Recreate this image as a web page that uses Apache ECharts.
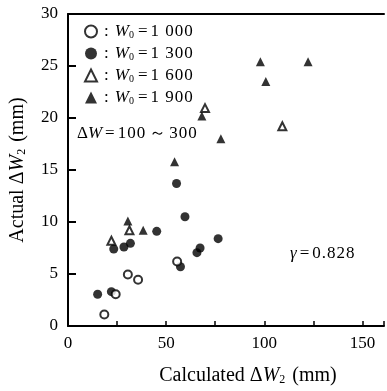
<!DOCTYPE html>
<html><head><meta charset="utf-8">
<script src="https://cdn.jsdelivr.net/npm/echarts@6/dist/echarts.min.js"></script>
<style>html,body{margin:0;padding:0;background:#fff}#c{width:387px;height:391px}</style>
</head><body><div id="c"></div>
<script>
// Data: [calculated ΔW2, actual ΔW2] (mm)
const w1000 = [[18.5,1.1],[24.3,3.05],[30.5,4.95],[35.7,4.45],[55.6,6.2]];
const w1300 = [[15.1,3.05],[22.1,3.3],[23.3,7.4],[28.5,7.6],[31.8,7.95],[45.2,9.1],[55.3,13.7],[57.3,5.7],[59.6,10.5],[65.7,7.05],[67.3,7.5],[76.5,8.4]];
const w1600 = [[22.1,8.2],[31.3,9.2],[69.8,20.95],[109.2,19.2]];
const w1900 = [[30.5,10.1],[38.3,9.2],[54.3,15.8],[68.2,20.2],[77.9,18.0],[98,25.4],[100.8,23.5],[122.3,25.4]];
const seriesNames = ['1 000','1 300','1 600','1 900'];
const xTicks = [0,50,100,150];
const yTicks = [0,5,10,15,20,25,30];

const F = '"Liberation Serif","Times New Roman",serif';
const rich = {
  i:{fontFamily:F,fontStyle:'italic',fontSize:17,color:'#000'},
  s:{fontFamily:F,fontSize:10,color:'#000',verticalAlign:'bottom',padding:[7,1,0,0]},
  n:{fontFamily:F,fontSize:17,color:'#000'},
  e:{fontFamily:F,fontSize:17,color:'#000',padding:[0,3,0,3]},
  d:{fontFamily:F,fontSize:17,color:'#000',padding:[0,1,0,0]},
  c:{fontFamily:F,fontSize:17,color:'#000',padding:[0,6,0,0]}
};
const bigRich = {
  i:{fontFamily:F,fontStyle:'italic',fontSize:20,color:'#000'},
  s:{fontFamily:F,fontSize:12,color:'#000',verticalAlign:'bottom',padding:[8,2,0,0]},
  n:{fontFamily:F,fontSize:20,color:'#000'}
};
const spaced = s => s.split('').map(ch=>'{d|'+ch+'}').join('');
const chart = echarts.init(document.getElementById('c'));
const mk = (name,data,symbol,filled)=>({
  name:name,type:'scatter',data:data,symbol:symbol,
  symbolSize: filled?9:8,
  itemStyle: filled?{color:'#000'}:{color:'#fff',borderColor:'#000',borderWidth:2},
  z:filled?2:3
});
chart.setOption({
  animation:false,
  grid:{left:66,right:1,top:14,bottom:62},
  legend:{
    orient:'vertical',left:79,top:18,itemGap:5,itemWidth:12,itemHeight:12,
    data:seriesNames.map((n,i)=>({name:n,icon:i<2?'circle':'triangle',
      itemStyle:i%2===0?{color:'#fff',borderColor:'#000',borderWidth:2}:{color:'#000'}})),
    formatter:n=>'{c|:}{i|W}{s|0}{e|=}' + spaced(n),
    textStyle:{rich:rich,padding:[0,0,0,2]}
  },
  xAxis:[{
    type:'value',min:0,max:161,interval:25,
    axisLine:{lineStyle:{color:'#000',width:2}},
    axisTick:{inside:true,length:5,lineStyle:{color:'#000',width:1.5}},
    axisLabel:{fontFamily:F,fontSize:17,color:'#000',margin:9,
      formatter:v=>xTicks.indexOf(v)>=0?String(v):''},
    splitLine:{show:false},
    name:'{n|Calculated Δ}{i|W}{s|2}{n| (mm)}',nameLocation:'middle',nameGap:40,
    nameTextStyle:{rich:bigRich,padding:[0,0,0,44]}
  },{
    type:'value',position:'top',min:0,max:161,
    axisLine:{show:true,onZero:false,lineStyle:{color:'#000',width:2}},
    axisTick:{show:false},axisLabel:{show:false},splitLine:{show:false}
  }],
  yAxis:{
    type:'value',min:0,max:30,interval:5,
    axisLine:{lineStyle:{color:'#000',width:2}},
    axisTick:{inside:true,length:8,lineStyle:{color:'#000',width:2}},
    axisLabel:{fontFamily:F,fontSize:17,color:'#000',margin:10,
      formatter:v=>yTicks.indexOf(v)>=0?String(v):''},
    splitLine:{show:false},
    name:'{n|Actual Δ}{i|W}{s|2}{n| (mm)}',nameLocation:'middle',nameGap:40,nameRotate:90,
    nameTextStyle:{rich:bigRich}
  },
  graphic:[
    {type:'text',left:77,top:125,style:{rich:rich,text:'{n|Δ}{i|W}{e|=}'+spaced('100')+'{e|～}'+spaced('300')}},
    {type:'text',left:290,top:245,style:{rich:rich,text:'{i|γ}{e|=}'+spaced('0.828')}}
  ],
  series:[
    mk(seriesNames[0],w1000,'circle',false),
    mk(seriesNames[1],w1300,'circle',true),
    mk(seriesNames[2],w1600,'triangle',false),
    mk(seriesNames[3],w1900,'triangle',true)
  ]
});
</script></body></html>
